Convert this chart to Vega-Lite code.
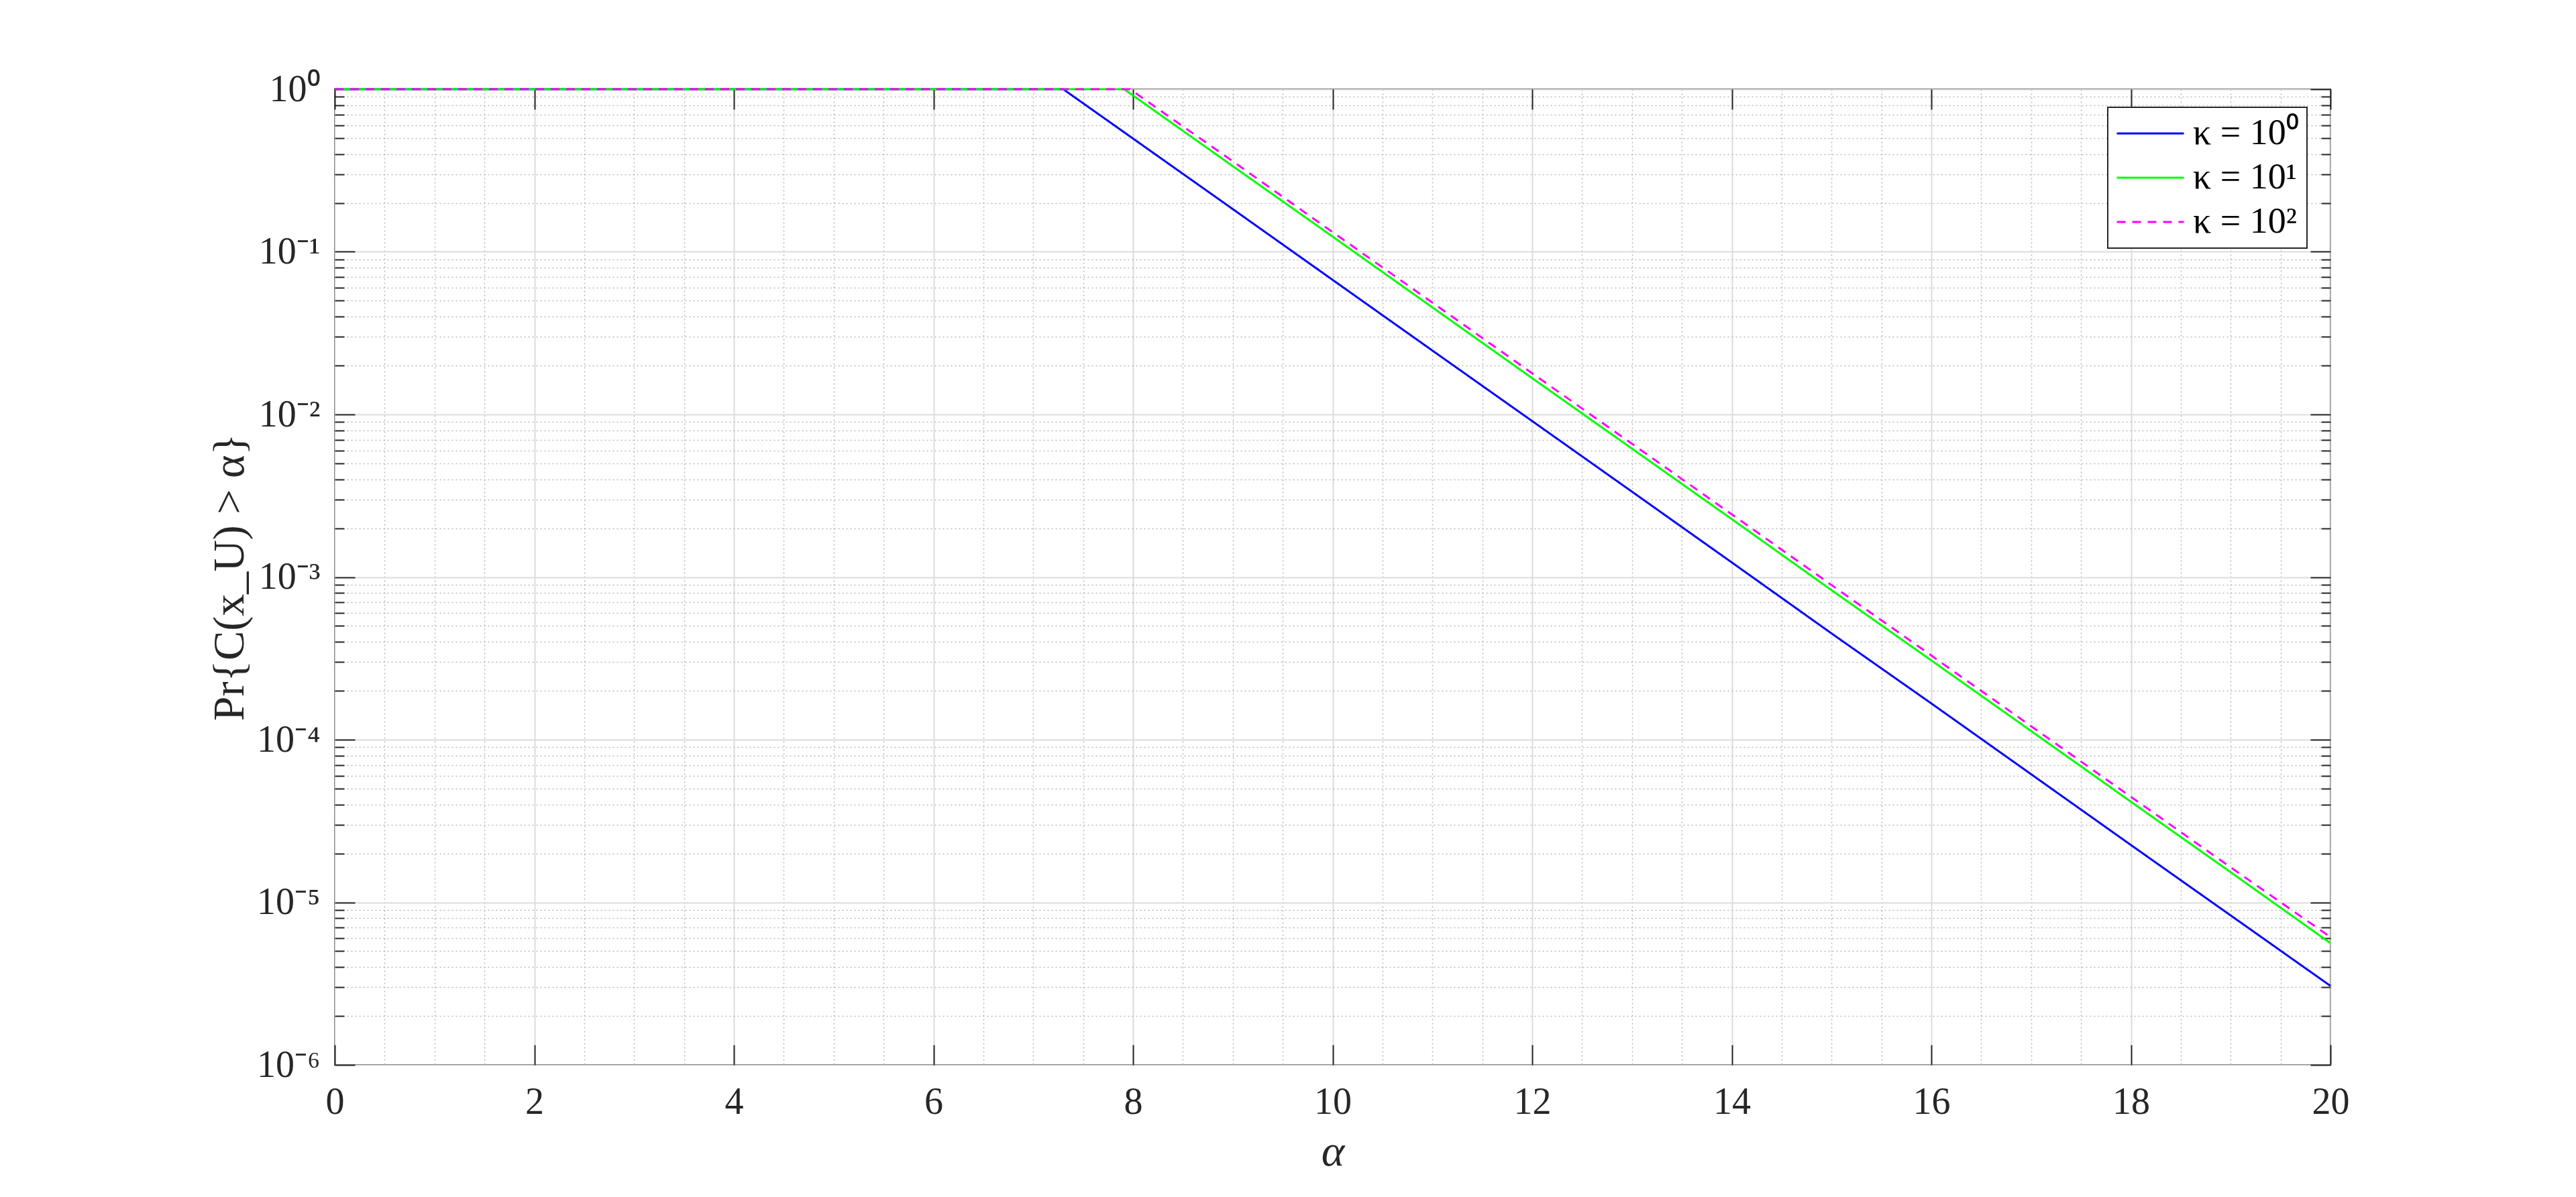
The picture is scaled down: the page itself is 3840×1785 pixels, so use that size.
{
  "$schema": "https://vega.github.io/schema/vega-lite/v6.json",
  "width": 2975,
  "height": 1455,
  "autosize": {"type": "none"},
  "padding": {"left": 499, "top": 133, "right": 366, "bottom": 197},
  "background": "white",
  "config": {
    "view": {"stroke": "#262626", "strokeWidth": 2},
    "legend": {"strokeWidth": 2},
    "axis": {
      "domain": false,
      "labelFlush": false,
      "labelOverlap": false,
      "tickColor": "#262626",
      "tickWidth": 2,
      "labelFont": "Liberation Serif",
      "labelColor": "#262626",
      "titleFont": "Liberation Serif",
      "titleColor": "#262626",
      "titleFontWeight": "normal"
    }
  },
  "data": {
    "values": [
      {"series": "κ = 10⁰", "alpha": 0, "p": 1},
      {"series": "κ = 10⁰", "alpha": 7.3, "p": 1},
      {"series": "κ = 10⁰", "alpha": 8, "p": 0.497},
      {"series": "κ = 10⁰", "alpha": 9, "p": 0.183},
      {"series": "κ = 10⁰", "alpha": 10, "p": 0.0672},
      {"series": "κ = 10⁰", "alpha": 11, "p": 0.0247},
      {"series": "κ = 10⁰", "alpha": 12, "p": 0.0091},
      {"series": "κ = 10⁰", "alpha": 13, "p": 0.00335},
      {"series": "κ = 10⁰", "alpha": 14, "p": 0.00123},
      {"series": "κ = 10⁰", "alpha": 15, "p": 0.00045},
      {"series": "κ = 10⁰", "alpha": 16, "p": 0.000167},
      {"series": "κ = 10⁰", "alpha": 17, "p": 0.0000613},
      {"series": "κ = 10⁰", "alpha": 18, "p": 0.0000225},
      {"series": "κ = 10⁰", "alpha": 19, "p": 0.0000083},
      {"series": "κ = 10⁰", "alpha": 20, "p": 0.00000306},
      {"series": "κ = 10¹", "alpha": 0, "p": 1},
      {"series": "κ = 10¹", "alpha": 7.91, "p": 1},
      {"series": "κ = 10¹", "alpha": 8, "p": 0.914},
      {"series": "κ = 10¹", "alpha": 9, "p": 0.336},
      {"series": "κ = 10¹", "alpha": 10, "p": 0.124},
      {"series": "κ = 10¹", "alpha": 11, "p": 0.0455},
      {"series": "κ = 10¹", "alpha": 12, "p": 0.0167},
      {"series": "κ = 10¹", "alpha": 13, "p": 0.00616},
      {"series": "κ = 10¹", "alpha": 14, "p": 0.00227},
      {"series": "κ = 10¹", "alpha": 15, "p": 0.00083},
      {"series": "κ = 10¹", "alpha": 16, "p": 0.000307},
      {"series": "κ = 10¹", "alpha": 17, "p": 0.000113},
      {"series": "κ = 10¹", "alpha": 18, "p": 0.0000415},
      {"series": "κ = 10¹", "alpha": 19, "p": 0.0000153},
      {"series": "κ = 10¹", "alpha": 20, "p": 0.0000056},
      {"series": "κ = 10²", "alpha": 0, "p": 1},
      {"series": "κ = 10²", "alpha": 7.97, "p": 1},
      {"series": "κ = 10²", "alpha": 8, "p": 0.97},
      {"series": "κ = 10²", "alpha": 9, "p": 0.36},
      {"series": "κ = 10²", "alpha": 10, "p": 0.132},
      {"series": "κ = 10²", "alpha": 11, "p": 0.0487},
      {"series": "κ = 10²", "alpha": 12, "p": 0.0179},
      {"series": "κ = 10²", "alpha": 13, "p": 0.0066},
      {"series": "κ = 10²", "alpha": 14, "p": 0.00243},
      {"series": "κ = 10²", "alpha": 15, "p": 0.000893},
      {"series": "κ = 10²", "alpha": 16, "p": 0.000329},
      {"series": "κ = 10²", "alpha": 17, "p": 0.000121},
      {"series": "κ = 10²", "alpha": 18, "p": 0.0000445},
      {"series": "κ = 10²", "alpha": 19, "p": 0.0000164},
      {"series": "κ = 10²", "alpha": 20, "p": 0.0000061}
    ]
  },
  "resolve": {"axis": {"x": "independent", "y": "independent"}},
  "layer": [
    {
      "mark": {"type": "line", "opacity": 0},
      "encoding": {
        "x": {"field": "alpha", "type": "quantitative", "scale": {"domain": [0, 20], "nice": false},
          "axis": {"orient": "bottom", "values": [0.5,1,1.5,2.5,3,3.5,4.5,5,5.5,6.5,7,7.5,8.5,9,9.5,10.5,11,11.5,12.5,13,13.5,14.5,15,15.5,16.5,17,17.5,18.5,19,19.5],
            "grid": true, "gridDash": [2, 4], "gridColor": "#b8b8b8", "gridWidth": 1.5, "ticks": false, "labels": false, "title": null}},
        "y": {"field": "p", "type": "quantitative", "scale": {"type": "log", "domain": [0.000001, 1], "nice": false},
          "axis": {"orient": "left", "values": [0.000002,0.000003,0.000004,0.000005,0.000006,0.000007,0.000008,0.000009,0.00002,0.00003,0.00004,0.00005,0.00006,0.00007,0.00008,0.00009,0.0002,0.0003,0.0004,0.0005,0.0006,0.0007,0.0008,0.0009,0.002,0.003,0.004,0.005,0.006,0.007,0.008,0.009,0.02,0.03,0.04,0.05,0.06,0.07,0.08,0.09,0.2,0.3,0.4,0.5,0.6,0.7,0.8,0.9],
            "grid": true, "gridDash": [2, 4], "gridColor": "#b8b8b8", "gridWidth": 1.5, "ticks": true, "tickSize": -14, "labels": false, "title": null}}
      }
    },
    {
      "mark": {"type": "line", "opacity": 0},
      "encoding": {
        "x": {"field": "alpha", "type": "quantitative",
          "axis": {"orient": "top", "values": [0,2,4,6,8,10,12,14,16,18,20], "grid": false, "ticks": true, "tickSize": -30, "labels": false, "title": null}},
        "y": {"field": "p", "type": "quantitative",
          "axis": {"orient": "right", "values": [0.000002,0.000003,0.000004,0.000005,0.000006,0.000007,0.000008,0.000009,0.00002,0.00003,0.00004,0.00005,0.00006,0.00007,0.00008,0.00009,0.0002,0.0003,0.0004,0.0005,0.0006,0.0007,0.0008,0.0009,0.002,0.003,0.004,0.005,0.006,0.007,0.008,0.009,0.02,0.03,0.04,0.05,0.06,0.07,0.08,0.09,0.2,0.3,0.4,0.5,0.6,0.7,0.8,0.9],
            "grid": false, "ticks": true, "tickSize": -14, "labels": false, "title": null}}
      }
    },
    {
      "mark": {"type": "line", "opacity": 0},
      "encoding": {
        "x": {"field": "alpha", "type": "quantitative",
          "axis": {"orient": "bottom", "values": [0,2,4,6,8,10,12,14,16,18,20], "grid": true, "gridColor": "#dcdcdc", "gridWidth": 2, "ticks": true, "tickSize": -30, "labels": false, "title": null}},
        "y": {"field": "p", "type": "quantitative",
          "axis": {"orient": "right", "values": [0.000001,0.00001,0.0001,0.001,0.01,0.1,1], "grid": false, "ticks": true, "tickSize": -30, "labels": false, "title": null}}
      }
    },
    {
      "mark": {"type": "line", "strokeWidth": 3},
      "encoding": {
        "x": {"field": "alpha", "type": "quantitative",
          "axis": {"orient": "bottom", "values": [0,2,4,6,8,10,12,14,16,18,20], "grid": false, "ticks": false, "labels": true, "labelFontSize": 56, "labelPadding": 28,
            "title": "α", "titleFontSize": 66, "titleFontStyle": "italic", "titlePadding": 14}},
        "y": {"field": "p", "type": "quantitative",
          "axis": {"orient": "left", "values": [0.000001,0.00001,0.0001,0.001,0.01,0.1,1], "grid": true, "gridColor": "#dcdcdc", "gridWidth": 2, "ticks": true, "tickSize": -30, "labels": true,
            "labelFontSize": 56, "labelPadding": 52,
            "labelExpr": "'10' + ['⁻⁶','⁻⁵','⁻⁴','⁻³','⁻²','⁻¹','⁰'][round(log(datum.value)/LN10)+6]",
            "title": "Pr{C(x_U) > α}", "titleFontSize": 66, "titlePadding": 6}},
        "color": {"field": "series", "type": "nominal",
          "scale": {"domain": ["κ = 10⁰", "κ = 10¹", "κ = 10²"], "range": ["#0000ff", "#00ff00", "#ff00ff"]},
          "legend": {"orient": "none", "legendX": 2643, "legendY": 27, "title": null,
            "strokeColor": "#262626", "fillColor": "white", "padding": 12,
            "symbolType": "stroke", "symbolSize": 10000, "symbolStrokeWidth": 3,
            "clipHeight": 54,
            "labelFont": "Liberation Serif", "labelFontSize": 54, "labelColor": "#000000", "labelOffset": 12,
            "rowPadding": 12}},
        "strokeDash": {"field": "series", "type": "nominal",
          "scale": {"domain": ["κ = 10⁰", "κ = 10¹", "κ = 10²"], "range": [[1, 0], [1, 0], [13, 10]]},
          "legend": {"orient": "none", "legendX": 2643, "legendY": 27, "title": null}}
      }
    }
  ]
}
